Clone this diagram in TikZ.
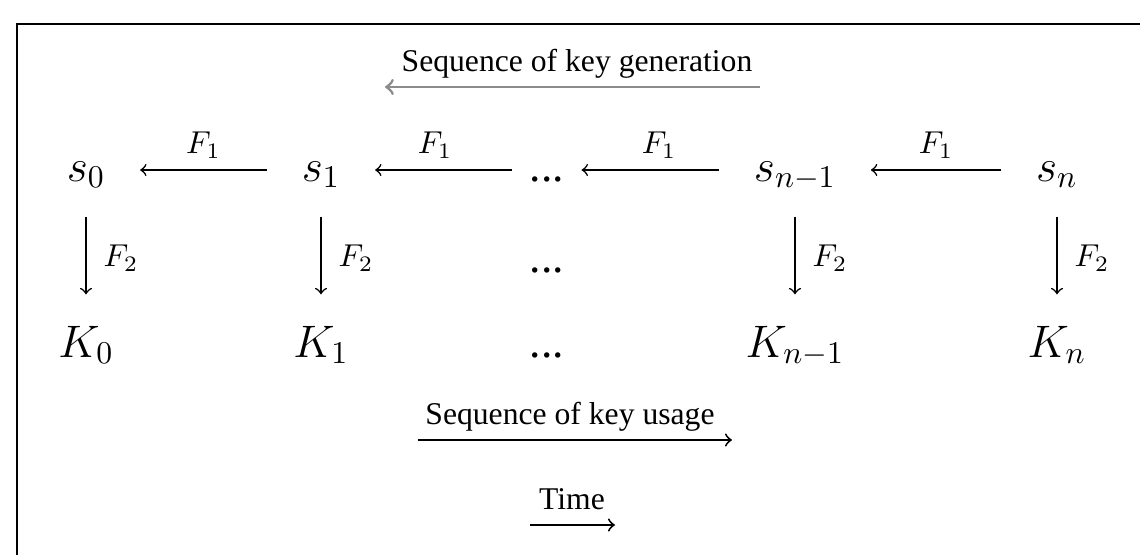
\documentclass[tikz,border=0pt]{standalone}
\usepackage[no-math]{fontspec}
\setmainfont{Liberation Serif}

\begin{document}
\begin{tikzpicture}[x=0.316pt, y=-0.316pt,
  seed/.style={font=\Large, text height=10pt, text depth=3pt},
  key/.style={font=\Large, text height=10pt, text depth=3pt},
  genarrow/.style={->, line width=0.5pt, shorten >=7.5pt, shorten <=7.5pt},
  derive/.style={->, line width=0.5pt, shorten <=4.7pt, shorten >=6.3pt},
  seqarrow/.style={->, line width=0.6pt}]
% Canvas
\useasboundingbox (0,0) rectangle (1140,555);
% Frame (top and left edges)
\draw[line width=0.7pt] (1140,24) -- (17,24) -- (17,555);
% Seeds
\node[seed] (s0) at (86,170) {$s_0$};
\node[seed] (s1) at (321,170) {$s_1$};
\node[seed] (sdots) at (547,170) {...};
\node[seed] (snm1) at (795,170) {$s_{n-1}$};
\node[seed] (sn) at (1057,170) {$s_n$};
% Keys
\node[key] (K0) at (86,346) {$K_0$};
\node[key] (K1) at (321,346) {$K_1$};
\node[key] (Kdots) at (547,346) {...};
\node[key] (Knm1) at (795,346) {$K_{n-1}$};
\node[key] (Kn) at (1057,346) {$K_n$};
\node[font=\Large] (mdots) at (547,270) {...};
% Key generation with F1
\draw[genarrow] (s1) -- (s0) node[midway, above] {$F_1$};
\draw[genarrow, shorten <=2pt] (sdots) -- (s1) node[midway, above] {$F_1$};
\draw[genarrow, shorten >=2pt] (snm1) -- (sdots) node[midway, above] {$F_1$};
\draw[genarrow] (sn) -- (snm1) node[midway, above] {$F_1$};
% Key derivation with F2
\draw[derive] (s0) -- (K0) node[midway, right=2pt] {$F_2$};
\draw[derive] (s1) -- (K1) node[midway, right=2pt] {$F_2$};
\draw[derive] (snm1) -- (Knm1) node[midway, right=2pt] {$F_2$};
\draw[derive] (sn) -- (Kn) node[midway, right=2pt] {$F_2$};
% Direction labels
\node[anchor=base] (gen) at (577,72) {Sequence of key generation};
\coordinate (genR) at (760,87);
\coordinate (genL) at (385,87);
\draw[seqarrow, black!45, line width=0.9pt] (genR) -- (genL);
\node[anchor=base] (usage) at (570,425) {Sequence of key usage};
\coordinate (usageL) at (418,440);
\coordinate (usageR) at (732,440);
\draw[seqarrow] (usageL) -- (usageR);
\node[anchor=base] (time) at (572,510) {Time};
\coordinate (timeL) at (530,525);
\coordinate (timeR) at (615,525);
\draw[seqarrow] (timeL) -- (timeR);
\end{tikzpicture}
\end{document}
